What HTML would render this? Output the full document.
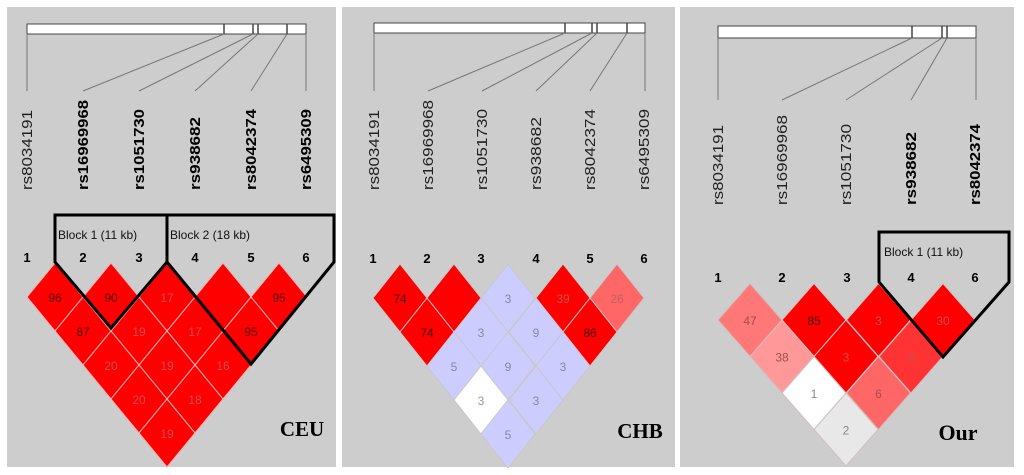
<!DOCTYPE html>
<html><head><meta charset="utf-8"><style>
html,body{margin:0;padding:0;background:#fff;}
svg{display:block;}
.n{font-family:"Liberation Sans",sans-serif;font-size:12px;text-anchor:middle;}
.h{font-family:"Liberation Sans",sans-serif;font-size:13px;font-weight:bold;text-anchor:middle;fill:#000;}
.r{font-family:"Liberation Sans",sans-serif;font-size:15px;fill:#222;}
.b{font-weight:bold;fill:#000;}
.blk{font-family:"Liberation Sans",sans-serif;font-size:12px;fill:#111;}
.pop{font-family:"Liberation Serif",serif;font-size:21px;font-weight:bold;text-anchor:middle;fill:#000;}
</style></head><body>
<svg width="1024" height="475" viewBox="0 0 1024 475" xmlns="http://www.w3.org/2000/svg">
<rect x="7" y="7" width="329" height="460" fill="#cdcdcd"/>
<rect x="342" y="7" width="333" height="460" fill="#cdcdcd"/>
<rect x="680" y="7" width="334" height="460" fill="#cdcdcd"/>

<!-- CEU top -->
<rect x="27" y="24" width="279" height="10" fill="#fff" stroke="#444" stroke-width="1"/>
<g stroke="#444" stroke-width="1.5"><line x1="224" y1="24" x2="224" y2="34"/><line x1="253" y1="24" x2="253" y2="34"/><line x1="258" y1="24" x2="258" y2="34"/><line x1="287" y1="24" x2="287" y2="34"/></g>
<g stroke="#777" stroke-width="1"><line x1="27" y1="34" x2="27" y2="91"/><line x1="224" y1="34" x2="83" y2="91"/><line x1="253" y1="34" x2="139" y2="91"/><line x1="258" y1="34" x2="195" y2="91"/><line x1="287" y1="34" x2="251" y2="91"/><line x1="306" y1="34" x2="306" y2="91"/></g>
<text class="r" transform="translate(32,190) rotate(-90)" textLength="80" lengthAdjust="spacingAndGlyphs">rs8034191</text>
<text class="r b" transform="translate(88,190) rotate(-90)" textLength="90" lengthAdjust="spacingAndGlyphs">rs16969968</text>
<text class="r b" transform="translate(144,190) rotate(-90)" textLength="81" lengthAdjust="spacingAndGlyphs">rs1051730</text>
<text class="r b" transform="translate(200,190) rotate(-90)" textLength="73" lengthAdjust="spacingAndGlyphs">rs938682</text>
<text class="r b" transform="translate(256,190) rotate(-90)" textLength="81" lengthAdjust="spacingAndGlyphs">rs8042374</text>
<text class="r b" transform="translate(311,190) rotate(-90)" textLength="81" lengthAdjust="spacingAndGlyphs">rs6495309</text>
<g class="h"><text x="27" y="262">1</text><text x="83" y="262">2</text><text x="139" y="262">3</text><text x="195" y="262">4</text><text x="251" y="262">5</text><text x="306" y="262">6</text></g>
<g fill="#ff0000" stroke="#f0b0b0" stroke-width="1">
<path d="M55,263l28,34-28,34-28-34z"/><path d="M111,263l28,34-28,34-28-34z"/><path d="M167,263l28,34-28,34-28-34z"/><path d="M223,263l28,34-28,34-28-34z"/><path d="M279,263l28,34-28,34-28-34z"/>
<path d="M83,297l28,34-28,34-28-34z"/><path d="M139,297l28,34-28,34-28-34z"/><path d="M195,297l28,34-28,34-28-34z"/><path d="M251,297l28,34-28,34-28-34z"/>
<path d="M111,331l28,34-28,34-28-34z"/><path d="M167,331l28,34-28,34-28-34z"/><path d="M223,331l28,34-28,34-28-34z"/>
<path d="M139,365l28,34-28,34-28-34z"/><path d="M195,365l28,34-28,34-28-34z"/>
<path d="M167,399l28,34-28,34-28-34z"/>
</g>
<g class="n" fill="#c85050">
<text x="55" y="302" fill="#500000">96</text><text x="111" y="302" fill="#500000">90</text><text x="167" y="302">17</text><text x="279" y="302" fill="#500000">95</text>
<text x="83" y="336" fill="#500000">87</text><text x="139" y="336">19</text><text x="195" y="336">17</text><text x="251" y="336" fill="#500000">95</text>
<text x="111" y="370">20</text><text x="167" y="370">19</text><text x="223" y="370">16</text>
<text x="139" y="404">20</text><text x="195" y="404">18</text>
<text x="167" y="438">19</text>
</g>
<g fill="none" stroke="#000" stroke-width="3" stroke-linejoin="miter">
<path d="M55,215L55,262L111,328L167,262L167,215Z"/>
<path d="M167,215L334,215L334,262L251,364L167,262"/>
</g>
<text class="blk" x="58" y="239">Block 1 (11 kb)</text>
<text class="blk" x="170" y="239">Block 2 (18 kb)</text>
<text class="pop" x="302" y="436">CEU</text>

<!-- CHB top -->
<rect x="374" y="23" width="271" height="10" fill="#fff" stroke="#444" stroke-width="1"/>
<g stroke="#444" stroke-width="1.5"><line x1="565" y1="23" x2="565" y2="33"/><line x1="592" y1="23" x2="592" y2="33"/><line x1="597" y1="23" x2="597" y2="33"/><line x1="627" y1="23" x2="627" y2="33"/></g>
<g stroke="#777" stroke-width="1"><line x1="374" y1="33" x2="374" y2="91"/><line x1="565" y1="33" x2="428" y2="91"/><line x1="592" y1="33" x2="482" y2="91"/><line x1="597" y1="33" x2="536" y2="91"/><line x1="627" y1="33" x2="590" y2="91"/><line x1="645" y1="33" x2="645" y2="91"/></g>
<text class="r" transform="translate(379,190) rotate(-90)" textLength="80" lengthAdjust="spacingAndGlyphs">rs8034191</text>
<text class="r" transform="translate(433,190) rotate(-90)" textLength="90" lengthAdjust="spacingAndGlyphs">rs16969968</text>
<text class="r" transform="translate(487,190) rotate(-90)" textLength="81" lengthAdjust="spacingAndGlyphs">rs1051730</text>
<text class="r" transform="translate(541,190) rotate(-90)" textLength="73" lengthAdjust="spacingAndGlyphs">rs938682</text>
<text class="r" transform="translate(595,190) rotate(-90)" textLength="81" lengthAdjust="spacingAndGlyphs">rs8042374</text>
<text class="r" transform="translate(649,190) rotate(-90)" textLength="81" lengthAdjust="spacingAndGlyphs">rs6495309</text>
<g class="h"><text x="373" y="263">1</text><text x="427" y="263">2</text><text x="481" y="263">3</text><text x="536" y="263">4</text><text x="590" y="263">5</text><text x="644" y="263">6</text></g>
<g stroke="#c8c8c8" stroke-width="1">
<path fill="#ff0000" d="M400,264l27,34-27,34-27-34z"/><path fill="#ff0000" d="M454,264l27,34-27,34-27-34z"/><path fill="#ccccff" d="M508,264l27,34-27,34-27-34z"/><path fill="#ff0000" d="M563,264l27,34-27,34-27-34z"/><path fill="#ff6666" d="M617,264l27,34-27,34-27-34z"/>
<path fill="#ff0000" d="M427,298l27,34-27,34-27-34z"/><path fill="#ccccff" d="M481,298l27,34-27,34-27-34z"/><path fill="#ccccff" d="M536,298l27,34-27,34-27-34z"/><path fill="#ff0000" d="M590,298l27,34-27,34-27-34z"/>
<path fill="#ccccff" d="M454,332l27,34-27,34-27-34z"/><path fill="#ccccff" d="M508,332l27,34-27,34-27-34z"/><path fill="#ccccff" d="M563,332l27,34-27,34-27-34z"/>
<path fill="#ffffff" d="M481,366l27,34-27,34-27-34z"/><path fill="#ccccff" d="M536,366l27,34-27,34-27-34z"/>
<path fill="#ccccff" d="M508,400l27,34-27,34-27-34z"/>
</g>
<g class="n" fill="#8888a0">
<text x="400" y="303" fill="#400000">74</text><text x="508" y="303">3</text><text x="563" y="303" fill="#c85050">39</text><text x="617" y="303" fill="#c06060">26</text>
<text x="427" y="337" fill="#400000">74</text><text x="481" y="337">3</text><text x="536" y="337">9</text><text x="590" y="337" fill="#400000">86</text>
<text x="454" y="371">5</text><text x="508" y="371">9</text><text x="563" y="371">3</text>
<text x="481" y="405" fill="#999">3</text><text x="536" y="405">3</text>
<text x="508" y="439">5</text>
</g>
<text class="pop" x="640" y="438">CHB</text>

<!-- Our top -->
<rect x="718" y="26" width="258" height="12" fill="#fff" stroke="#444" stroke-width="1"/>
<g stroke="#444" stroke-width="1.5"><line x1="912" y1="26" x2="912" y2="38"/><line x1="942" y1="26" x2="942" y2="38"/><line x1="947" y1="26" x2="947" y2="38"/></g>
<g stroke="#777" stroke-width="1"><line x1="718" y1="38" x2="718" y2="100"/><line x1="912" y1="38" x2="782" y2="100"/><line x1="942" y1="38" x2="846" y2="100"/><line x1="947" y1="38" x2="911" y2="100"/><line x1="976" y1="38" x2="976" y2="100"/></g>
<text class="r" transform="translate(723,205) rotate(-90)" textLength="80" lengthAdjust="spacingAndGlyphs">rs8034191</text>
<text class="r" transform="translate(787,205) rotate(-90)" textLength="90" lengthAdjust="spacingAndGlyphs">rs16969968</text>
<text class="r" transform="translate(851,205) rotate(-90)" textLength="81" lengthAdjust="spacingAndGlyphs">rs1051730</text>
<text class="r b" transform="translate(916,205) rotate(-90)" textLength="73" lengthAdjust="spacingAndGlyphs">rs938682</text>
<text class="r b" transform="translate(980,205) rotate(-90)" textLength="81" lengthAdjust="spacingAndGlyphs">rs8042374</text>
<g class="h"><text x="718" y="282">1</text><text x="782" y="282">2</text><text x="847" y="282">3</text><text x="911" y="282">4</text><text x="975" y="282">6</text></g>
<g stroke="#d0c0c0" stroke-width="1">
<path fill="#ff7777" d="M750,283.5l32,36.5-32,36.5-32-36.5z"/><path fill="#ff0000" d="M814,283.5l32,36.5-32,36.5-32-36.5z"/><path fill="#ff0000" d="M878.5,283.5l32,36.5-32,36.5-32-36.5z"/><path fill="#ff0000" d="M943,283.5l32,36.5-32,36.5-32-36.5z"/>
<path fill="#ff9999" d="M782,320l32,36.5-32,36.5-32-36.5z"/><path fill="#ff0000" d="M846,320l32,36.5-32,36.5-32-36.5z"/><path fill="#ff3333" d="M911,320l32,36.5-32,36.5-32-36.5z"/>
<path fill="#ffffff" d="M814,356.5l32,36.5-32,36.5-32-36.5z"/><path fill="#ff6666" d="M878.5,356.5l32,36.5-32,36.5-32-36.5z"/>
<path fill="#e8e8e8" d="M846,393l32,36.5-32,36.5-32-36.5z"/>
</g>
<g class="n" fill="#a05050">
<text x="750" y="325">47</text><text x="814" y="325" fill="#400000">85</text><text x="878.5" y="325" fill="#c85050">3</text><text x="943" y="325" fill="#c85050">30</text>
<text x="782" y="361.5">38</text><text x="846" y="361.5" fill="#c85050">3</text><text x="911" y="361.5" fill="#c85050">8</text>
<text x="814" y="398" fill="#888">1</text><text x="878.5" y="398">6</text>
<text x="846" y="434.5" fill="#888">2</text>
</g>
<path d="M879,232L1009,232L1009,282L943,357L879,282Z" fill="none" stroke="#000" stroke-width="3"/>
<text class="blk" x="884" y="256">Block 1 (11 kb)</text>
<text class="pop" x="958" y="440" style="font-size:22px">Our</text>
</svg>
</body></html>
